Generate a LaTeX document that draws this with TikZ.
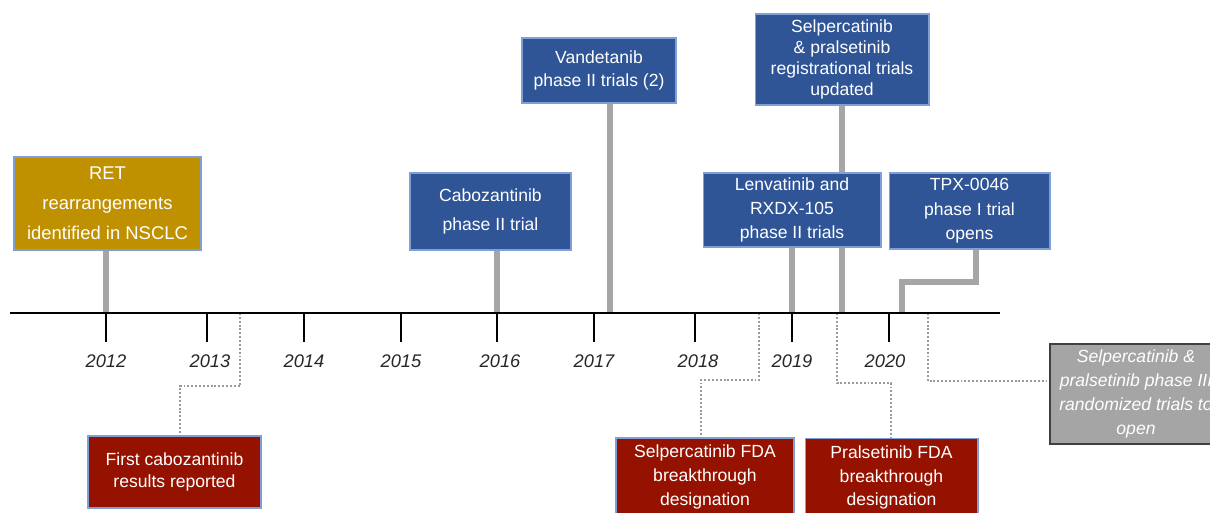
\documentclass[tikz,border=0pt]{standalone}
\usepackage{fontspec}
\setmainfont{Liberation Sans}
\usepackage{tikz}
\usetikzlibrary{positioning,backgrounds}
\usepackage{xcolor}

\definecolor{retgold}{HTML}{BF9000}
\definecolor{trialblue}{HTML}{2F5597}
\definecolor{fdared}{HTML}{961200}
\definecolor{boxedge}{HTML}{7F9FD6}
\definecolor{stemgrey}{HTML}{A6A6A6}
\definecolor{dotgrey}{HTML}{9A9A9A}
\definecolor{futuregrey}{HTML}{A5A5A5}

\tikzset{
  box/.style={draw=boxedge, line width=0.6pt, text=white, align=center, inner sep=0pt},
  goldbox/.style={box, fill=retgold},
  bluebox/.style={box, fill=trialblue},
  redbox/.style={box, fill=fdared},
  greybox/.style={box, fill=futuregrey, draw=black!75, line width=0.9pt, font=\itshape\fontsize{10}{13.6}\selectfont},
  axis/.style={line width=1.7pt, black},
  yeartick/.style={line width=0.8pt, black},
  year/.style={font=\itshape\fontsize{10.4}{12}\selectfont, text=black!85},
  stem/.style={line width=3.3pt, stemgrey},
  link/.style={line width=1.1pt, dotgrey, dash pattern=on 1.1pt off 1.1pt}
}

\begin{document}
\begin{tikzpicture}[x=0.02cm, y=-0.02cm]

\useasboundingbox (0,0) rectangle (1210,513);
\clip (0,0) rectangle (1210,513);

% time axis
\draw[axis] (10,313) -- (1000,313);

\coordinate (t2012) at (106,313);
\coordinate (t2013) at (207,313);
\coordinate (t2014) at (304,313);
\coordinate (t2015) at (401,313);
\coordinate (t2016) at (497,313);
\coordinate (t2017) at (594,313);
\coordinate (t2018) at (695,313);
\coordinate (t2019) at (792,313);
\coordinate (t2020) at (889,313);

\draw[yeartick] (t2012) -- ++(0,29);
\draw[yeartick] (t2013) -- ++(0,29);
\draw[yeartick] (t2014) -- ++(0,29);
\draw[yeartick] (t2015) -- ++(0,29);
\draw[yeartick] (t2016) -- ++(0,29);
\draw[yeartick] (t2017) -- ++(0,29);
\draw[yeartick] (t2018) -- ++(0,29);
\draw[yeartick] (t2019) -- ++(0,29);
\draw[yeartick] (t2020) -- ++(0,29);

\node[year] (l2012) at (106,361) {2012};
\node[year] (l2013) at (210,361) {2013};
\node[year] (l2014) at (304,361) {2014};
\node[year] (l2015) at (401,361) {2015};
\node[year] (l2016) at (500,361) {2016};
\node[year] (l2017) at (594,361) {2017};
\node[year] (l2018) at (698,361) {2018};
\node[year] (l2019) at (792,361) {2019};
\node[year] (l2020) at (885,361) {2020};

% events above the axis
\node[goldbox, minimum width=3.74cm, minimum height=1.86cm, font=\fontsize{10.5}{17}\selectfont]
  (ret) at (107.5,203.5) {RET\\rearrangements\\identified in NSCLC};
\node[bluebox, minimum width=3.22cm, minimum height=1.54cm, font=\fontsize{10}{17}\selectfont]
  (cabo) at (490.5,211.5) {Cabozantinib\\phase II trial};
\node[bluebox, minimum width=3.08cm, minimum height=1.3cm, font=\fontsize{10}{13.6}\selectfont]
  (vand) at (599,70.5) {Vandetanib\\phase II trials (2)};
\node[bluebox, minimum width=3.48cm, minimum height=1.82cm, font=\fontsize{10}{12.1}\selectfont]
  (selreg) at (842,59.5) {Selpercatinib\\\& pralsetinib\\registrational trials\\updated};
\node[bluebox, minimum width=3.56cm, minimum height=1.48cm, font=\fontsize{10}{13.6}\selectfont]
  (lenva) at (792,210) {Lenvatinib and\\RXDX-105\\phase II trials};
\node[bluebox, minimum width=3.22cm, minimum height=1.52cm, font=\fontsize{10}{13.9}\selectfont]
  (tpx) at (969.5,211) {TPX-0046\\phase I trial\\opens};

% events below the axis
\node[redbox, minimum width=3.46cm, minimum height=1.44cm, font=\fontsize{10}{13}\selectfont]
  (first) at (174.5,472) {First cabozantinib\\results reported};
\node[redbox, minimum width=3.56cm, minimum height=1.56cm, font=\fontsize{10}{13.6}\selectfont]
  (selfda) at (705,477) {Selpercatinib FDA\\breakthrough\\designation};
\node[redbox, minimum width=3.46cm, minimum height=1.56cm, font=\fontsize{10}{13.6}\selectfont]
  (prafda) at (891.5,477.5) {Pralsetinib FDA\\breakthrough\\designation};
\node[greybox, minimum width=3.44cm, minimum height=2cm]
  (future) at (1136,394) {Selpercatinib \&\\pralsetinib phase III\\randomized trials to\\open};

% stems
\coordinate (s-vand) at (610,313);
\coordinate (s-selreg) at (842,313);
\coordinate (s-tpx) at (902,313);
\coordinate (k-tpx) at (976,282);

\begin{scope}[on background layer]
\draw[stem] (ret.south -| t2012) -- (t2012);
\draw[stem] (cabo.south -| t2016) -- (t2016);
\draw[stem] (vand.south -| s-vand) -- (s-vand);
\draw[stem] (selreg.south) -- (s-selreg);
\draw[stem] (lenva.south -| t2019) -- (t2019);
\draw[stem] (tpx.south -| k-tpx) -- (k-tpx) -| (s-tpx);
\end{scope}

% dotted links
\coordinate (e-first) at (240,313);
\coordinate (m-first) at (180,386);
\coordinate (e-selfda) at (759,313);
\coordinate (m-selfda) at (701,380);
\coordinate (e-prafda) at (837,313);
\coordinate (m-prafda) at (891,383);
\coordinate (e-future) at (928,313);
\coordinate (m-future) at (1050,381);

\begin{scope}[on background layer]
\draw[link] (e-first) |- (m-first) -- (m-first |- first.north);
\draw[link] (e-selfda) |- (m-selfda) -- (m-selfda |- selfda.north);
\draw[link] (e-prafda) |- (m-prafda) -- (m-prafda |- prafda.north);
\draw[link] (e-future) |- (m-future);
\end{scope}

\end{tikzpicture}
\end{document}
